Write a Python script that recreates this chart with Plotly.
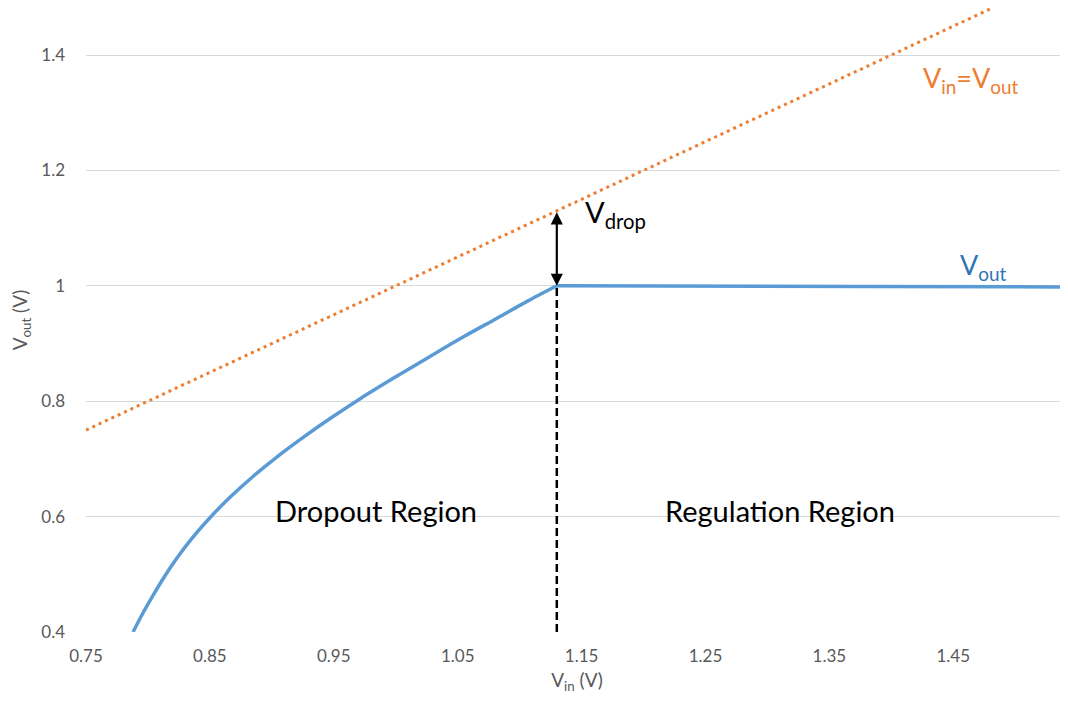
import plotly.graph_objects as go

# Data
vin_curve = [0.788, 0.795, 0.804, 0.813, 0.823, 0.835, 0.85, 0.866, 0.885, 0.905, 0.925, 0.947,
             0.971, 0.999, 1.028, 1.055, 1.081, 1.106, 1.13]
vout_curve = [0.400, 0.429, 0.463, 0.495, 0.527, 0.561, 0.598, 0.633, 0.670, 0.705, 0.737, 0.770,
              0.804, 0.841, 0.878, 0.912, 0.943, 0.973, 1.000]
vin_flat = [1.13, 1.16, 1.38, 1.545]
vout_flat = [1.000, 1.000, 0.999, 0.998]
vin_ideal = [0.75, 1.48]
vout_ideal = [0.75, 1.48]
v_dropout_x = 1.13
v_dropout_y = [0.4, 1.0]
v_drop_top = 1.13

x_ticks = [0.75, 0.85, 0.95, 1.05, 1.15, 1.25, 1.35, 1.45]
y_ticks = [0.4, 0.6, 0.8, 1.0, 1.2, 1.4]

FONT = "Lato, Carlito, Calibri, sans-serif"
GREY = "#595959"

fig = go.Figure()
fig.add_trace(go.Scatter(x=vin_ideal, y=vout_ideal, mode="lines",
                         line=dict(color="#ED7D31", width=3, dash="3px,4px"),
                         hoverinfo="skip", showlegend=False))
fig.add_trace(go.Scatter(x=vin_curve, y=vout_curve, mode="lines",
                         line=dict(color="#5B9BD5", width=3.5, shape="spline", smoothing=0.8),
                         showlegend=False))
fig.add_trace(go.Scatter(x=vin_flat, y=vout_flat, mode="lines",
                         line=dict(color="#5B9BD5", width=3.5),
                         showlegend=False))
fig.add_trace(go.Scatter(x=[v_dropout_x, v_dropout_x], y=v_dropout_y, mode="lines",
                         line=dict(color="black", width=2.5, dash="8px,4px"),
                         hoverinfo="skip", showlegend=False))

annotations = [
    dict(x=v_dropout_x, y=1.0, ax=v_dropout_x, ay=v_drop_top, xref="x", yref="y",
         axref="x", ayref="y", showarrow=True, arrowhead=2, startarrowhead=2,
         arrowside="end+start", arrowwidth=2.2, arrowsize=1.1, arrowcolor="black", text=""),
    dict(x=0.984, y=0.61, text="Dropout Region", showarrow=False,
         font=dict(size=29, color="black", family=FONT)),
    dict(x=1.310, y=0.61, text="Regulation Region", showarrow=False,
         font=dict(size=29, color="black", family=FONT)),
    dict(x=1.177, y=1.125, text="V<sub>drop</sub>", showarrow=False,
         font=dict(size=29, color="black", family=FONT)),
    dict(x=1.464, y=1.357, text="V<sub>in</sub>=V<sub>out</sub>", showarrow=False,
         font=dict(size=27, color="#ED7D31", family=FONT)),
    dict(x=1.474, y=1.033, text="V<sub>out</sub>", showarrow=False,
         font=dict(size=27, color="#2E75B6", family=FONT)),
]

fig.update_layout(
    width=1068, height=709,
    margin=dict(l=78, r=8, t=0, b=85),
    plot_bgcolor="white", paper_bgcolor="white",
    font=dict(family=FONT, color=GREY),
    annotations=annotations,
    xaxis=dict(range=[0.75, 1.5426], tickvals=x_ticks, ticktext=[f"{v:g}" for v in x_ticks],
               showgrid=False, zeroline=False, showline=False, automargin=False,
               tickfont=dict(size=17, color=GREY), ticks="", ticklabelstandoff=12,
               title=dict(text="V<sub>in</sub> (V)", font=dict(size=19, color=GREY), standoff=8)),
    yaxis=dict(range=[0.4, 1.4815], tickvals=y_ticks, ticktext=[f"{v:g}" for v in y_ticks],
               showgrid=True, gridcolor="#D9D9D9", gridwidth=1, zeroline=False, showline=False,
               automargin=False,
               tickfont=dict(size=17, color=GREY), ticks="", ticklabelstandoff=20,
               title=dict(text="V<sub>out</sub> (V)", font=dict(size=19, color=GREY), standoff=20)),
)

fig.write_html("out.html")
